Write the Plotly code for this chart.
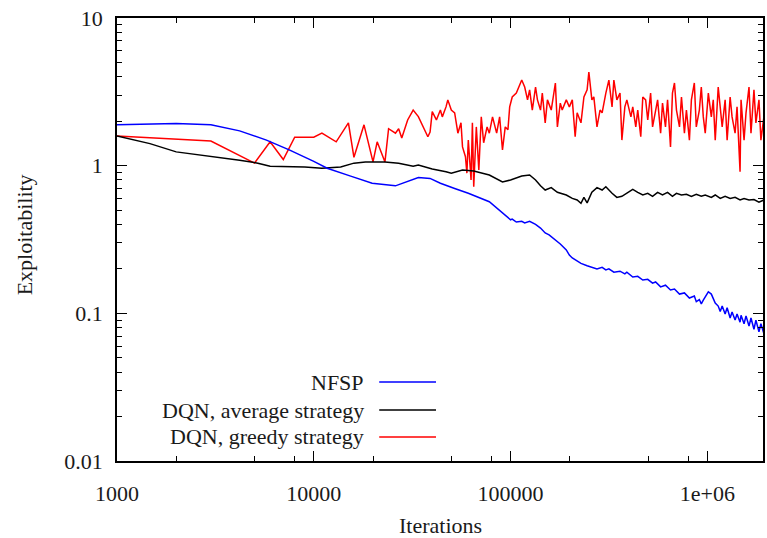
import plotly.graph_objects as go

# Iterations in thousands
nfsp_k = [1, 1.47, 2, 3, 4.2, 5.75, 7.5, 10, 11.7, 15.4, 19.8, 26, 30, 34, 39, 44, 52, 61, 78, 97,
          100, 102, 107, 114, 118, 125, 134, 142, 150, 157, 169, 179, 192, 199, 206, 218, 228, 245,
          259, 275, 292, 305, 316, 335, 360, 381, 390, 418, 443, 470, 498, 527, 546, 579, 613, 650,
          681, 722, 765, 811, 859, 879, 911, 932, 954, 976, 1012, 1048, 1072, 1097, 1136, 1163,
          1190, 1232, 1261, 1306, 1336, 1384, 1416, 1467, 1484, 1537, 1573, 1629, 1667, 1726,
          1766, 1830, 1872, 1939]
nfsp_y = [1.89, 1.91, 1.93, 1.89, 1.72, 1.49, 1.28, 1.07, 0.96, 0.85, 0.76, 0.73, 0.78, 0.83, 0.82,
          0.76, 0.70, 0.65, 0.57, 0.44,
          0.43, 0.435, 0.415, 0.42, 0.41, 0.42, 0.40, 0.378, 0.35, 0.34, 0.314, 0.295, 0.269, 0.248,
          0.237, 0.225, 0.218, 0.21, 0.205, 0.20, 0.205, 0.197, 0.20, 0.19, 0.193, 0.185, 0.19,
          0.176, 0.178, 0.168, 0.17, 0.16, 0.163, 0.151, 0.155, 0.144, 0.146, 0.135, 0.1375, 0.127,
          0.131, 0.12, 0.124, 0.116, 0.123, 0.129, 0.14, 0.135, 0.124, 0.1175, 0.112, 0.103, 0.112,
          0.099, 0.109, 0.093, 0.102, 0.09, 0.099, 0.087, 0.097, 0.085, 0.096, 0.082, 0.093, 0.078,
          0.09, 0.075, 0.085, 0.073]

avg_k = [1, 1.47, 2, 3, 4.2, 5.2, 6, 9, 11, 13.7, 16, 18.3, 23, 27, 32, 34, 40, 47, 50, 57, 65, 78,
         91, 100, 114, 125, 134, 142, 150, 161, 173, 192, 206, 218, 228, 236, 245, 259, 275, 292,
         305, 328, 347, 368, 390, 418, 443, 470, 498, 527, 559, 592, 628, 665, 697, 739, 783, 830,
         879, 932, 976, 1048, 1097, 1163, 1232, 1306, 1384, 1467, 1537, 1629, 1726, 1830, 1939]
avg_y = [1.59, 1.41, 1.24, 1.16, 1.09, 1.04, 0.99, 0.98, 0.96, 0.98, 1.04, 1.06, 1.06, 1.04, 0.99,
         1.01, 0.95, 0.91, 0.89, 0.935, 0.92, 0.865, 0.775, 0.80, 0.85, 0.865, 0.80, 0.73, 0.684,
         0.71, 0.66, 0.633, 0.60, 0.586, 0.556, 0.61, 0.56, 0.66, 0.71, 0.684, 0.72, 0.65, 0.61,
         0.62, 0.65, 0.69, 0.66, 0.633, 0.65, 0.62, 0.66, 0.633, 0.66, 0.62, 0.65, 0.633, 0.64,
         0.62, 0.64, 0.62, 0.633, 0.61, 0.633, 0.60, 0.62, 0.60, 0.61, 0.586, 0.60, 0.586, 0.59,
         0.566, 0.586]

greedy_k = [1, 3, 5, 6, 7, 8, 10, 11, 13, 15, 16, 18, 20, 21, 23, 24, 26, 27, 28, 30, 32, 34, 38,
            39, 40, 42, 44, 45, 47, 48, 50, 52, 54, 56, 57, 59, 60, 61, 63, 64, 65, 67, 69, 71, 73,
            76, 78, 81, 85, 88, 91, 94, 97, 99, 102, 107, 114, 118, 122, 125, 129, 134, 137, 142,
            145, 150, 154, 161, 169, 173, 179, 183, 192, 199, 206, 213, 218, 228, 236, 245, 250,
            259, 265, 275, 285, 292, 305, 316, 328, 335, 347, 360, 368, 381, 390, 409, 418, 433,
            443, 459, 470, 486, 498, 515, 527, 546, 559, 579, 592, 613, 628, 650, 665, 681, 697,
            722, 739, 765, 783, 811, 830, 859, 879, 911, 932, 954, 976, 1012, 1048, 1072, 1097,
            1136, 1163, 1190, 1232, 1261, 1306, 1336, 1384, 1416, 1467, 1484, 1537, 1573, 1629,
            1667, 1726, 1766, 1830, 1872, 1939]
greedy_y = [1.59, 1.47, 1.04, 1.45, 1.10, 1.56, 1.56, 1.66, 1.45, 1.95, 1.14, 1.89, 1.06, 1.45,
            1.06, 1.78, 1.66, 1.78, 1.54, 2.04, 2.38, 2.15, 1.57, 1.69, 2.32, 2.04, 2.38, 2.14,
            2.50, 2.79, 2.38, 2.28, 1.66, 1.95, 1.34, 1.15, 0.89, 1.49, 0.80, 1.95, 0.72, 1.83,
            0.935, 2.14, 1.43, 1.83, 1.66, 2.14, 1.66, 2.14, 1.28, 1.83, 1.75, 2.50, 2.92, 3.10,
            3.80, 3.41, 2.79, 3.26, 2.38, 3.41, 2.79, 2.38, 3.10, 1.95, 2.79, 2.38, 3.63, 1.83,
            2.65, 2.38, 2.79, 2.50, 2.79, 1.57, 2.28, 1.95, 2.92, 3.26, 4.31, 2.79, 2.92, 1.83,
            2.38, 2.28, 3.10, 3.80, 2.50, 3.80, 2.79, 3.10, 1.49, 2.50, 2.79, 2.14, 2.50, 1.83,
            2.38, 1.57, 2.92, 2.79, 2.04, 3.10, 1.83, 2.38, 2.79, 1.66, 2.65, 1.83, 2.79, 1.34,
            3.10, 3.63, 2.38, 1.83, 2.92, 1.66, 2.38, 1.49, 2.79, 3.63, 1.83, 2.38, 3.41, 2.14,
            1.66, 3.10, 2.14, 2.79, 1.49, 3.41, 2.38, 1.83, 2.79, 1.49, 2.92, 2.14, 1.66, 2.50,
            0.91, 2.79, 1.49, 2.28, 3.41, 1.66, 3.26, 1.95, 2.79, 1.49, 2.14]

x_tickvals = [1000, 10000, 100000, 1000000]
x_ticktext = ["1000", "10000", "100000", "1e+06"]
x_minor = [2000, 5000, 8000, 20000, 50000, 80000, 200000, 500000, 800000]
y_tickvals = [0.01, 0.1, 1, 10]
y_ticktext = ["0.01", "0.1", "1", "10"]
y_minor = [m * d for d in (0.01, 0.1, 1) for m in range(2, 10)]

series = [
    ("NFSP", nfsp_k, nfsp_y, "#0000ff"),
    ("DQN, average strategy", avg_k, avg_y, "#000000"),
    ("DQN, greedy strategy", greedy_k, greedy_y, "#ff0000"),
]

FONT = "Liberation Serif, Times New Roman, serif"
TXT = dict(family=FONT, size=22, color="#1a1a1a")
fig = go.Figure()
for name, xs, ys, col in [series[2], series[1], series[0]]:
    fig.add_trace(go.Scatter(x=[v * 1000 for v in xs], y=ys, mode="lines", name=name,
                             line=dict(color=col, width=1.5), showlegend=False))

axis_common = dict(type="log", showline=True, linecolor="black", linewidth=1.5, mirror="ticks",
                   ticks="inside", ticklen=10, tickwidth=1.2, tickcolor="black", showgrid=False,
                   zeroline=False, tickfont=TXT)
fig.update_xaxes(**axis_common, range=[3, 6.283], tickmode="array", tickvals=x_tickvals,
                 ticktext=x_ticktext, ticklabelstandoff=12,
                 minor=dict(tickmode="array", tickvals=x_minor, ticks="inside", ticklen=5,
                            tickcolor="black", tickwidth=1))
fig.update_yaxes(**axis_common, range=[-2, 1], tickmode="array", tickvals=y_tickvals,
                 ticktext=y_ticktext, ticklabelstandoff=8,
                 minor=dict(tickmode="array", tickvals=y_minor, ticks="inside", ticklen=5,
                            tickcolor="black", tickwidth=1))

ann = [
    dict(text="Iterations", x=0.5, y=-0.146, xref="paper", yref="paper", showarrow=False,
         xanchor="center", yanchor="middle", font=TXT),
    dict(text="Exploitability", x=-0.1435, y=0.51, xref="paper", yref="paper", showarrow=False,
         xanchor="center", yanchor="middle", textangle=-90, font=TXT),
]
shapes = []
leg_y = [0.1783, 0.1151, 0.0542]
for (name, _, _, col), yy in zip(series, leg_y):
    ann.append(dict(text=name, x=0.3858, y=yy, xref="paper", yref="paper", showarrow=False,
                    xanchor="right", yanchor="middle", font=TXT))
    shapes.append(dict(type="line", xref="paper", yref="paper", x0=0.4059, x1=0.4938, y0=yy, y1=yy,
                       line=dict(color=col, width=1.5)))

fig.update_layout(width=767, height=538, margin=dict(l=117, r=2, t=18, b=77),
                  plot_bgcolor="white", paper_bgcolor="white", annotations=ann, shapes=shapes,
                  showlegend=False)
fig.write_html("out.html", config={"displayModeBar": False},
               post_script="document.body.style.margin='0';")
